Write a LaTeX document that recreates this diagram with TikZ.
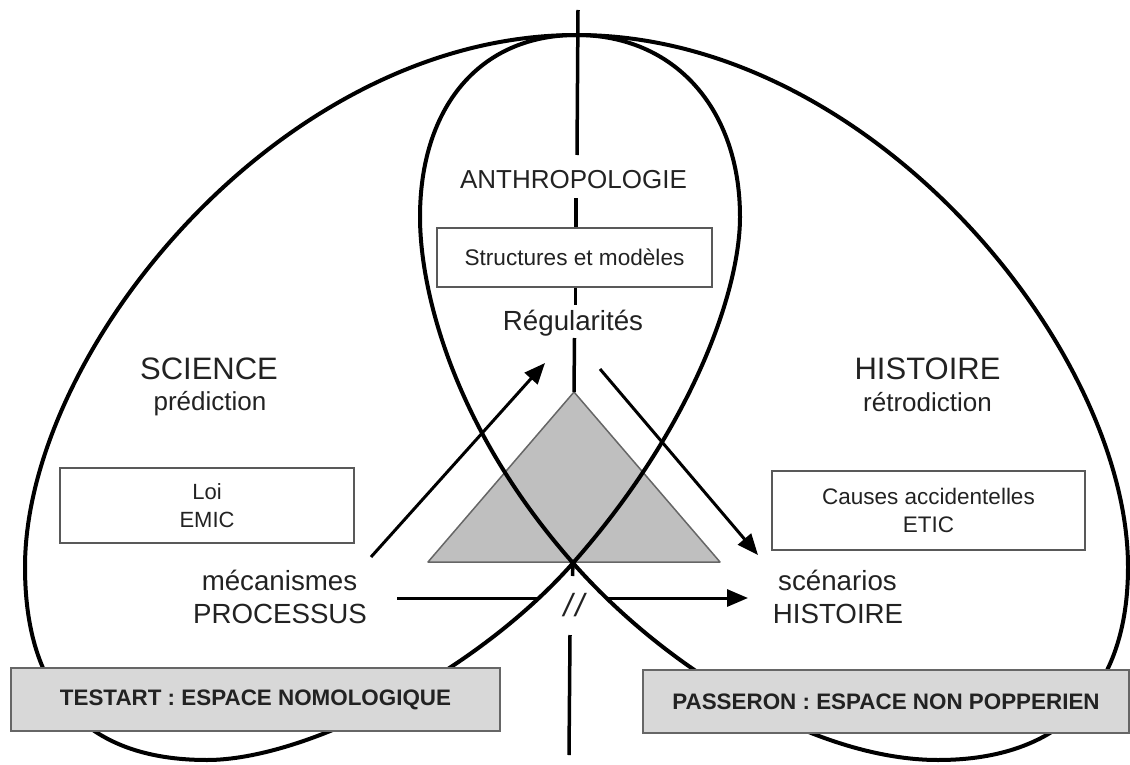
\documentclass[tikz,border=0pt]{standalone}
\usepackage{fontspec}
\setmainfont{Liberation Sans}
\usetikzlibrary{arrows.meta}
\definecolor{ink}{HTML}{222222}
\definecolor{tri}{HTML}{BFBFBF}
\definecolor{tagfill}{HTML}{D8D8D8}

\begin{document}
\begin{tikzpicture}[x=1pt,y=-1pt,
  lobe/.style={line width=4pt, line join=round, line cap=round},
  axisline/.style={line width=3.5pt},
  flow/.style={line width=3pt, -{Triangle[length=21pt,width=17pt]}},
  flowplain/.style={line width=3pt},
  frame/.style={draw=black!65, line width=1.6pt, fill=white, inner sep=0pt,
    text=ink, align=center},
  tag/.style={draw=black!60, line width=2pt, fill=tagfill, inner sep=0pt,
    font=\bfseries\fontsize{22.4}{26}\selectfont, text=ink},
  big/.style={font=\fontsize{31}{36}\selectfont, text=ink, anchor=base},
  mid/.style={font=\fontsize{27.7}{32}\selectfont, text=ink, anchor=base},
  sub/.style={font=\fontsize{26}{30}\selectfont, text=ink, anchor=base},
]
\useasboundingbox (0,0) rectangle (1130,765);

% central triangle
\coordinate (apex) at (574,392);
\coordinate (bl) at (428,562);
\coordinate (br) at (720,562);
\draw[black!60, line width=1.5pt, fill=tri, line join=round] (apex) -- (bl) -- (br) -- cycle;

% key points of the two lobes
\coordinate (top) at (576.5,35);
\coordinate (cross) at (573,563);
\coordinate (lout) at (25,567);
\coordinate (lbot) at (207,760);
\coordinate (rin) at (740,217);
\coordinate (rout) at (1128,567);
\coordinate (rbot) at (938,760);
\coordinate (lin) at (420,217);

% left lobe: outer arc on the left, inner arc on the right
\draw[lobe] (top) .. controls (281,35) and (25,351) .. (lout)
  .. controls (25,691) and (84,760) .. (lbot)
  .. controls (305,760) and (475,674) .. (cross)
  .. controls (694,426) and (740,289) .. (rin)
  .. controls (740,108) and (674,35) .. (top);
% right lobe: outer arc on the right, inner arc on the left
\draw[lobe] (top) .. controls (872,35) and (1128,351) .. (rout)
  .. controls (1128,691) and (1061,760) .. (rbot)
  .. controls (820,760) and (671,674) .. (cross)
  .. controls (452,426) and (420,289) .. (lin)
  .. controls (420,108) and (479,35) .. (top);

% texts of the upper axis
\node[sub] (anthro) at (573.5,188) {ANTHROPOLOGIE};
\node[frame, minimum width=275pt, minimum height=59pt,
  font=\fontsize{22.6}{27}\selectfont] (struct) at (574.5,257.5) {Structures et modèles};
\node[mid] (regul) at (573,330) {Régularités};

% vertical axis, broken by the labels
\coordinate (v1) at (578,10);
\coordinate (v2) at (577,155);
\coordinate (v3) at (576,198);
\coordinate (v4) at (575.5,305);
\coordinate (v5) at (574.5,338);
\coordinate (v6) at (572.5,576);
\coordinate (v7) at (570,635);
\coordinate (v8) at (569,755);
\draw[axisline] (v1) -- (v2);
\draw[axisline] (v3) -- (v3 |- struct.north);
\draw[axisline] (v4 |- struct.south) -- (v4);
\draw[axisline] (v5) -- (apex);
\draw[axisline] (cross) -- (v6);
\draw[axisline] (v7) -- (v8);
\node[font=\itshape\fontsize{32}{32}\selectfont, text=ink, inner sep=0pt] (brk) at (574,605) {/\kern3pt/};

% side labels
\node[big] (sci) at (209,379) {SCIENCE};
\node[sub] (pred) at (210,410) {prédiction};
\node[big] (hist) at (927.5,379) {HISTOIRE};
\node[sub] (retro) at (927.5,411) {rétrodiction};

\node[frame, minimum width=294pt, minimum height=75pt,
  font=\fontsize{22}{28}\selectfont] (loi) at (207,505.5) {Loi\\EMIC};
\node[frame, minimum width=313pt, minimum height=79pt,
  font=\fontsize{22.5}{28}\selectfont] (causes) at (928.5,510.5) {Causes accidentelles\\ETIC};

\node[mid] (meca) at (279.5,590) {mécanismes};
\node[mid] (proc) at (280,623) {PROCESSUS};
\node[mid] (scen) at (837.5,590) {scénarios};
\node[mid] (histb) at (838,623) {HISTOIRE};

% arrows
\coordinate (a1s) at (371,557);
\coordinate (a1e) at (545,363);
\coordinate (a2s) at (600,369);
\coordinate (a2e) at (758,555);
\coordinate (h1) at (397,598);
\coordinate (h2) at (538,598);
\coordinate (h3) at (608,598);
\coordinate (h4) at (748,598);
\draw[flow] (a1s) -- (a1e);
\draw[flow] (a2s) -- (a2e);
\draw[flowplain] (h1) -- (h2);
\draw[flow] (h3) -- (h4);

% bottom captions
\node[tag, minimum width=489pt, minimum height=63pt] (testart) at (255.5,699.5)
  {TESTART : ESPACE NOMOLOGIQUE};
\node[tag, minimum width=486pt, minimum height=63pt] (passeron) at (886,701.5)
  {PASSERON : ESPACE NON POPPERIEN};
\end{tikzpicture}
\end{document}
